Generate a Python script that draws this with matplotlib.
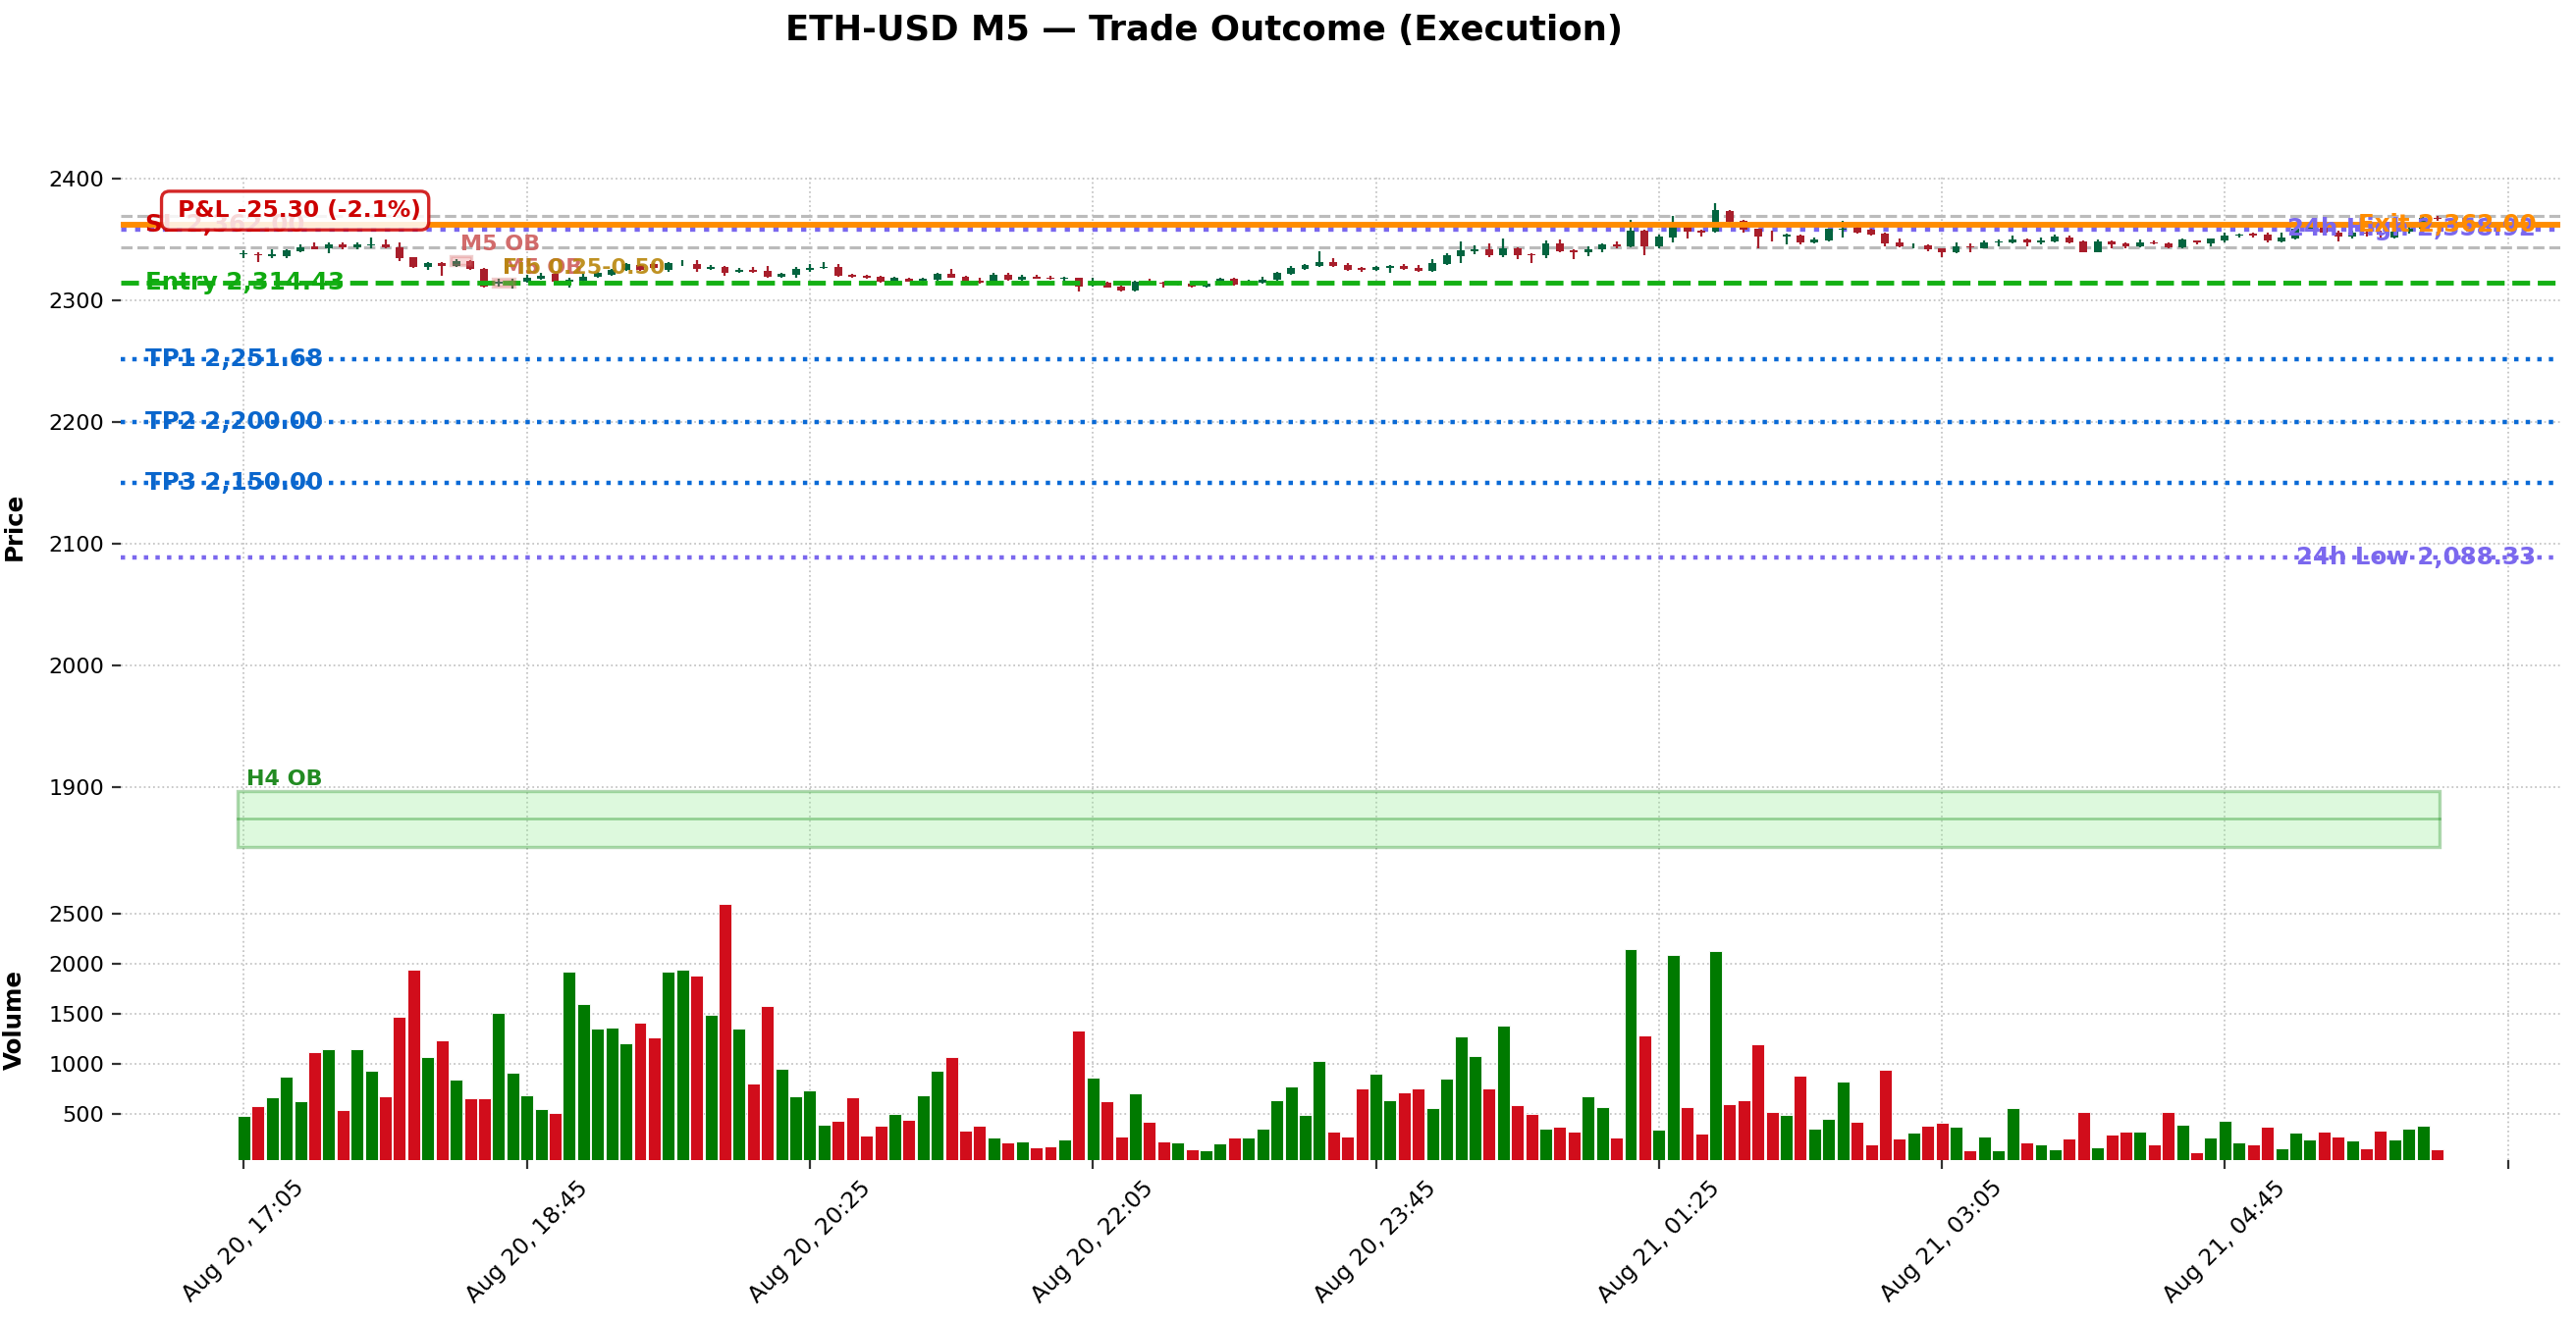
import matplotlib.pyplot as plt
import matplotlib.transforms as mtransforms
from matplotlib.patches import Rectangle
from matplotlib.ticker import MultipleLocator, FuncFormatter
import numpy as np
import pandas as pd

# ---- data -------------------------------------------------------------
start_time = "2024-08-20 17:05"

opens = [
    2338.2, 2337.9, 2336.6, 2336.6, 2340.6, 2344.4, 2342.5, 2346.0, 2343.8, 2345.5,
    2346.0, 2343.3, 2335.2, 2327.7, 2330.6, 2328.5, 2332.3, 2325.5, 2313.7, 2312.4,
    2315.6, 2317.7, 2321.5, 2315.6, 2316.4, 2319.6, 2321.0, 2325.0, 2329.0, 2329.6,
    2325.0, 2329.6, 2330.1, 2325.8, 2327.7, 2323.7, 2325.0, 2324.2, 2319.6, 2321.0,
    2325.3, 2326.3, 2327.2, 2321.0, 2320.2, 2319.1, 2315.6, 2317.7, 2316.4, 2316.9,
    2321.8, 2319.4, 2316.1, 2314.0, 2321.0, 2316.9, 2319.4, 2318.6, 2318.0, 2318.3,
    2312.4, 2314.2, 2311.3, 2308.1, 2315.6, 2314.8, 2313.4, 2313.7, 2311.6, 2312.9,
    2317.7, 2314.2, 2314.2, 2316.9, 2321.8, 2325.8, 2328.2, 2331.7, 2329.0, 2326.3,
    2325.0, 2326.9, 2328.5, 2326.9, 2324.2, 2329.8, 2336.3, 2340.3, 2341.9, 2337.1,
    2343.0, 2338.2, 2337.1, 2347.0, 2341.1, 2339.8, 2341.9, 2346.0, 2344.4, 2357.3,
    2344.4, 2351.9, 2361.3, 2357.3, 2356.5, 2373.4, 2365.3, 2358.6, 2353.5, 2352.7,
    2353.2, 2347.8, 2349.2, 2358.3, 2359.4, 2357.8, 2354.6, 2347.3, 2345.0, 2345.2,
    2342.5, 2339.2, 2344.4, 2343.0, 2347.3, 2347.8, 2350.0, 2347.8, 2348.6, 2351.6,
    2348.4, 2339.8, 2348.4, 2347.0, 2344.6, 2347.8, 2347.0, 2343.8, 2349.0, 2346.5,
    2349.2, 2352.9, 2354.8, 2354.3, 2348.4, 2351.1, 2358.6, 2359.9, 2355.9, 2352.4,
    2355.9, 2355.2, 2351.9, 2356.5, 2358.6, 2367.5,
]
highs = [
    2341.1, 2339.8, 2341.9, 2341.9, 2345.7, 2347.8, 2347.3, 2347.3, 2347.3, 2351.3,
    2350.0, 2347.3, 2335.8, 2331.7, 2331.7, 2334.0, 2333.0, 2326.3, 2317.7, 2317.7,
    2321.0, 2322.3, 2323.0, 2318.3, 2321.5, 2323.5, 2326.0, 2330.4, 2330.0, 2331.0,
    2331.7, 2333.0, 2333.0, 2329.0, 2328.5, 2326.3, 2327.2, 2328.2, 2322.8, 2327.7,
    2329.6, 2331.7, 2329.6, 2321.8, 2321.2, 2320.0, 2319.6, 2318.8, 2318.3, 2322.8,
    2325.8, 2320.2, 2318.3, 2322.3, 2322.3, 2321.0, 2321.0, 2320.2, 2319.6, 2318.8,
    2318.3, 2315.6, 2312.4, 2316.4, 2317.7, 2315.6, 2315.0, 2314.8, 2315.6, 2318.8,
    2318.8, 2316.9, 2319.6, 2323.7, 2328.0, 2330.1, 2340.3, 2334.4, 2330.9, 2327.4,
    2328.2, 2329.0, 2329.6, 2329.0, 2333.9, 2338.4, 2348.4, 2345.2, 2346.5, 2350.5,
    2343.8, 2338.7, 2348.9, 2349.7, 2341.9, 2344.4, 2347.0, 2348.4, 2366.1, 2357.8,
    2353.8, 2369.4, 2361.8, 2357.8, 2380.1, 2374.2, 2365.9, 2359.1, 2357.3, 2355.0,
    2353.8, 2351.9, 2359.1, 2365.3, 2361.3, 2358.6, 2355.4, 2350.5, 2346.5, 2345.7,
    2343.0, 2347.3, 2346.5, 2349.2, 2350.0, 2353.2, 2351.1, 2351.9, 2353.8, 2353.2,
    2349.2, 2350.0, 2349.2, 2347.8, 2350.0, 2349.2, 2347.8, 2350.5, 2349.5, 2351.0,
    2355.4, 2355.1, 2355.4, 2355.4, 2355.4, 2360.0, 2361.0, 2362.0, 2357.3, 2357.3,
    2357.0, 2357.3, 2358.6, 2363.0, 2369.0, 2369.4,
]
lows = [
    2334.4, 2331.2, 2335.0, 2334.4, 2339.8, 2341.7, 2338.4, 2341.7, 2341.7, 2342.5,
    2342.5, 2332.5, 2326.3, 2325.0, 2320.2, 2327.0, 2325.0, 2310.8, 2311.6, 2309.7,
    2314.2, 2316.9, 2314.0, 2310.8, 2315.6, 2318.8, 2320.4, 2324.2, 2324.0, 2326.0,
    2323.1, 2328.2, 2323.7, 2325.0, 2320.4, 2322.3, 2322.3, 2318.8, 2318.3, 2318.8,
    2323.7, 2325.5, 2319.6, 2318.3, 2318.0, 2314.8, 2315.0, 2315.0, 2312.4, 2316.4,
    2318.3, 2315.0, 2313.7, 2313.4, 2316.4, 2316.4, 2317.5, 2316.9, 2315.6, 2307.5,
    2311.6, 2310.2, 2307.5, 2307.5, 2312.9, 2310.2, 2312.0, 2310.8, 2310.8, 2312.4,
    2312.4, 2312.1, 2313.4, 2316.4, 2321.0, 2325.0, 2327.7, 2327.7, 2324.2, 2323.7,
    2324.5, 2322.8, 2325.0, 2323.7, 2323.7, 2329.0, 2330.9, 2337.6, 2335.8, 2335.8,
    2333.6, 2330.9, 2334.4, 2339.2, 2333.6, 2336.6, 2339.2, 2342.5, 2343.8, 2337.1,
    2342.5, 2347.8, 2351.1, 2352.7, 2355.9, 2363.4, 2355.9, 2342.5, 2348.0, 2345.7,
    2346.2, 2346.5, 2348.4, 2351.9, 2355.1, 2353.2, 2344.6, 2343.8, 2343.0, 2340.6,
    2335.8, 2338.4, 2339.8, 2342.5, 2344.6, 2347.0, 2344.6, 2345.7, 2347.8, 2347.0,
    2339.2, 2339.2, 2342.5, 2342.5, 2343.8, 2346.0, 2343.0, 2342.5, 2345.7, 2344.6,
    2347.8, 2351.9, 2351.9, 2347.8, 2347.8, 2350.0, 2357.0, 2354.0, 2348.6, 2350.5,
    2352.0, 2351.1, 2351.1, 2355.0, 2358.0, 2365.3,
]
closes = [
    2338.6, 2337.1, 2337.9, 2341.1, 2343.3, 2342.2, 2346.0, 2343.8, 2346.0, 2346.0,
    2343.3, 2334.4, 2327.7, 2330.6, 2328.2, 2332.3, 2325.5, 2311.6, 2315.6, 2316.4,
    2318.8, 2320.4, 2315.6, 2316.9, 2319.6, 2322.3, 2325.0, 2329.6, 2325.0, 2326.9,
    2330.4, 2330.1, 2325.8, 2327.7, 2322.8, 2325.0, 2323.7, 2319.6, 2321.8, 2325.5,
    2326.3, 2327.2, 2320.4, 2319.6, 2318.8, 2315.6, 2318.8, 2315.6, 2317.7, 2321.8,
    2318.8, 2315.6, 2314.2, 2321.0, 2316.9, 2319.4, 2318.0, 2317.7, 2318.6, 2311.6,
    2314.2, 2310.8, 2308.1, 2315.6, 2314.0, 2313.4, 2314.0, 2311.6, 2313.7, 2317.7,
    2312.9, 2315.6, 2316.9, 2322.6, 2326.9, 2329.0, 2331.7, 2328.2, 2325.0, 2325.0,
    2327.4, 2328.5, 2325.8, 2324.2, 2330.6, 2337.1, 2341.1, 2341.9, 2337.1, 2343.0,
    2337.1, 2337.4, 2347.0, 2340.3, 2339.8, 2341.9, 2346.0, 2344.4, 2357.3, 2344.4,
    2352.4, 2361.3, 2356.5, 2355.6, 2374.2, 2364.5, 2358.1, 2352.4, 2353.0, 2354.0,
    2347.3, 2350.0, 2358.6, 2358.9, 2355.9, 2354.0, 2346.5, 2344.4, 2345.4, 2342.0,
    2339.2, 2344.4, 2343.3, 2347.8, 2348.4, 2350.3, 2347.8, 2349.2, 2352.7, 2347.8,
    2339.8, 2348.4, 2346.2, 2344.6, 2347.8, 2346.5, 2343.8, 2350.0, 2347.3, 2350.5,
    2353.2, 2354.0, 2353.4, 2348.9, 2351.6, 2358.6, 2359.9, 2356.0, 2352.4, 2355.9,
    2354.6, 2353.8, 2356.5, 2358.6, 2368.0, 2366.8,
]
volumes = [
    484, 581, 672, 874, 630, 1121, 1147, 542, 1147, 933,
    679, 1472, 1941, 1069, 1235, 845, 659, 659, 1508, 913,
    689, 555, 516, 1921, 1596, 1352, 1362, 1206, 1411, 1264,
    1921, 1941, 1882, 1489, 2591, 1352, 809, 1576, 952, 679,
    737, 396, 435, 672, 290, 388, 503, 448, 689, 936,
    1069, 341, 390, 272, 220, 233, 175, 184, 253, 1333,
    868, 633, 282, 711, 428, 233, 220, 152, 142, 210,
    272, 272, 360, 643, 780, 497, 1034, 331, 282, 760,
    907, 643, 721, 760, 565, 858, 1277, 1082, 760, 1381,
    594, 506, 360, 380, 331, 679, 575, 272, 2146, 1287,
    350, 2087, 575, 311, 2127, 604, 643, 1199, 526, 497,
    887, 360, 458, 829, 428, 204, 946, 263, 321, 389,
    419, 380, 146, 282, 146, 565, 224, 204, 155, 263,
    523, 175, 302, 331, 331, 204, 523, 399, 126, 272,
    438, 224, 204, 380, 165, 321, 253, 331, 282, 243,
    165, 341, 253, 360, 389, 155,
]

entry_price = 2314.43
sl_price = 2362.00
exit_price = 2362.00
tp_levels = [("TP1", 2251.68), ("TP2", 2200.00), ("TP3", 2150.00)]
day_high = 2358.92
day_low = 2088.33
range_levels = [2369.4, 2343.8]
pnl_text = " P&L -25.30 (-2.1%)"

h4_ob = (1851.0, 1897.0)          # low, high
m5_obs = [(15, 2329.2, 2336.5), (18, 2311.0, 2317.7)]   # bar index, low, high

# ---- build frame ------------------------------------------------------
df = pd.DataFrame({"open": opens, "high": highs, "low": lows,
                   "close": closes, "volume": volumes})
df.index = pd.date_range(start_time, periods=len(df), freq="5min")
n = len(df)
x = np.arange(n)
up = (df["close"] >= df["open"]).values

CANDLE_UP, CANDLE_DN = "#03643f", "#a81e2b"
VOL_UP, VOL_DN = "#007a00", "#d10d1b"

fig = plt.figure(figsize=(2624 / 160, 1348 / 160), dpi=160)
ax = fig.add_axes([123 / 2624, 1 - 894 / 1348, 2485 / 2624, 716 / 1348])
axv = fig.add_axes([123 / 2624, 1 - 1182 / 1348, 2485 / 2624, 285 / 1348], sharex=ax)

for a in (ax, axv):
    for s in a.spines.values():
        s.set_visible(False)
    a.grid(True, linestyle=":", color="#c4c4c4", linewidth=0.8)
    a.set_axisbelow(True)
    a.tick_params(axis="both", labelsize=10, length=4, width=1, color="#333333")

# candles
wick_col = np.where(up, CANDLE_UP, CANDLE_DN)
ax.vlines(x, df["low"], df["high"], colors=wick_col, linewidth=1.0, zorder=3)
body_lo = np.minimum(df["open"], df["close"])
body_h = np.maximum(np.abs(df["close"] - df["open"]), 0.4)
ax.bar(x, body_h, bottom=body_lo, width=0.55, color=wick_col, zorder=4)

# levels
blend = mtransforms.blended_transform_factory(ax.transAxes, ax.transData)
for lv in range_levels:
    ax.axhline(lv, color="#bbbbbb", linestyle="--", linewidth=1.4, zorder=2)

ax.axhline(sl_price, color="#cc0000", linewidth=2, zorder=2)
ax.axhline(exit_price, color="darkorange", linewidth=2.6, zorder=5)
ax.axhline(day_high, color="#7b68ee", linestyle=":", linewidth=2.4, zorder=2)
ax.axhline(day_low, color="#7b68ee", linestyle=":", linewidth=2.0, zorder=2)
ax.axhline(entry_price, color="#14b014", linestyle="--", linewidth=2.2, zorder=5)
for name, lv in tp_levels:
    ax.axhline(lv, color="#0a6ad6", linestyle=":", linewidth=2.0, zorder=2)

lab = dict(fontsize=11, fontweight="bold", va="center", transform=blend, zorder=8)
ax.text(0.01, sl_price, f"SL {sl_price:,.2f}", color="#cc0000", ha="left", **lab)
ax.text(0.01, entry_price, f"Entry {entry_price:,.2f}", color="#10aa10", ha="left", **lab)
for name, lv in tp_levels:
    ax.text(0.01, lv, f"{name} {lv:,.2f}", color="#0a66cc", ha="left", **lab)
ax.text(0.99, day_high, f"24h High {day_high:,.2f}", color="#7b68ee", ha="right", **lab)
ax.text(0.99, exit_price, f"Exit {exit_price:,.2f}", color="darkorange", ha="right", **lab)
ax.text(0.99, day_low, f"24h Low {day_low:,.2f}", color="#7b68ee", ha="right", **lab)

# order blocks
ax.add_patch(Rectangle((-0.45, h4_ob[0]), n - 0.35, h4_ob[1] - h4_ob[0],
                       facecolor="#90ee90", alpha=0.3, edgecolor="green",
                       linewidth=1.5, zorder=1))
ax.plot([-0.45, n - 0.8], [sum(h4_ob) / 2] * 2, color="green", alpha=0.35,
        linewidth=1.2, zorder=1)
ax.text(0.2, h4_ob[1] + 1, "H4 OB", color="#228b22", fontsize=10,
        fontweight="bold", ha="left", va="bottom")

for i, lo, hi in m5_obs:
    ax.add_patch(Rectangle((i - 0.4, lo), 1.5, hi - lo, facecolor="lightcoral",
                           alpha=0.3, edgecolor="indianred", linewidth=1.5, zorder=6))
    ax.text(i + 0.3, hi + 1, "M5 OB", color="indianred", alpha=0.9, fontsize=10,
            fontweight="bold", ha="left", va="bottom", zorder=7)
ax.text(m5_obs[1][0] + 0.3, m5_obs[1][2] + 1, "Fib 0.25-0.50", color="darkgoldenrod",
        alpha=0.9, fontsize=10, fontweight="bold", ha="left", va="bottom", zorder=7)

ax.text(0.02, 0.965, pnl_text, transform=ax.transAxes, color="#cc0000",
        fontsize=10.5, fontweight="bold", ha="left", va="top", zorder=10,
        bbox=dict(boxstyle="round,pad=0.35", facecolor="white", alpha=0.85,
                  edgecolor="#cc0000", linewidth=1.5))

ax.set_ylim(1825.8, 2403.2)
ax.yaxis.set_major_locator(MultipleLocator(100))
ax.set_ylabel("Price", fontsize=11, fontweight="bold")
ax.yaxis.set_label_coords(-0.0386, 0.5)
ax.tick_params(axis="x", labelbottom=False, length=0)

# volume
axv.bar(x, df["volume"], width=0.9, color=np.where(up, VOL_UP, VOL_DN),
        edgecolor="white", linewidth=0.4)
axv.set_ylim(45, 2828)
axv.yaxis.set_major_locator(MultipleLocator(500))
axv.set_ylabel("Volume", fontsize=11, fontweight="bold")
axv.yaxis.set_label_coords(-0.0386, 0.5)

times = df.index
def fmt(v, pos):
    i = int(round(v))
    if 0 <= i < n:
        return times[i].strftime("%b %d, %H:%M")
    return ""
axv.xaxis.set_major_locator(MultipleLocator(20))
axv.xaxis.set_major_formatter(FuncFormatter(fmt))
axv.tick_params(axis="x", labelrotation=45, labelsize=10.5)
axv.set_xlim(-8.7, 163.7)

fig.text(1227 / 2624, 1 - 41 / 1348, "ETH-USD M5 \u2014 Trade Outcome (Execution)",
         ha="center", va="baseline", fontsize=16, fontweight="bold")

fig.savefig("out.png", dpi=160)
plt.close(fig)
